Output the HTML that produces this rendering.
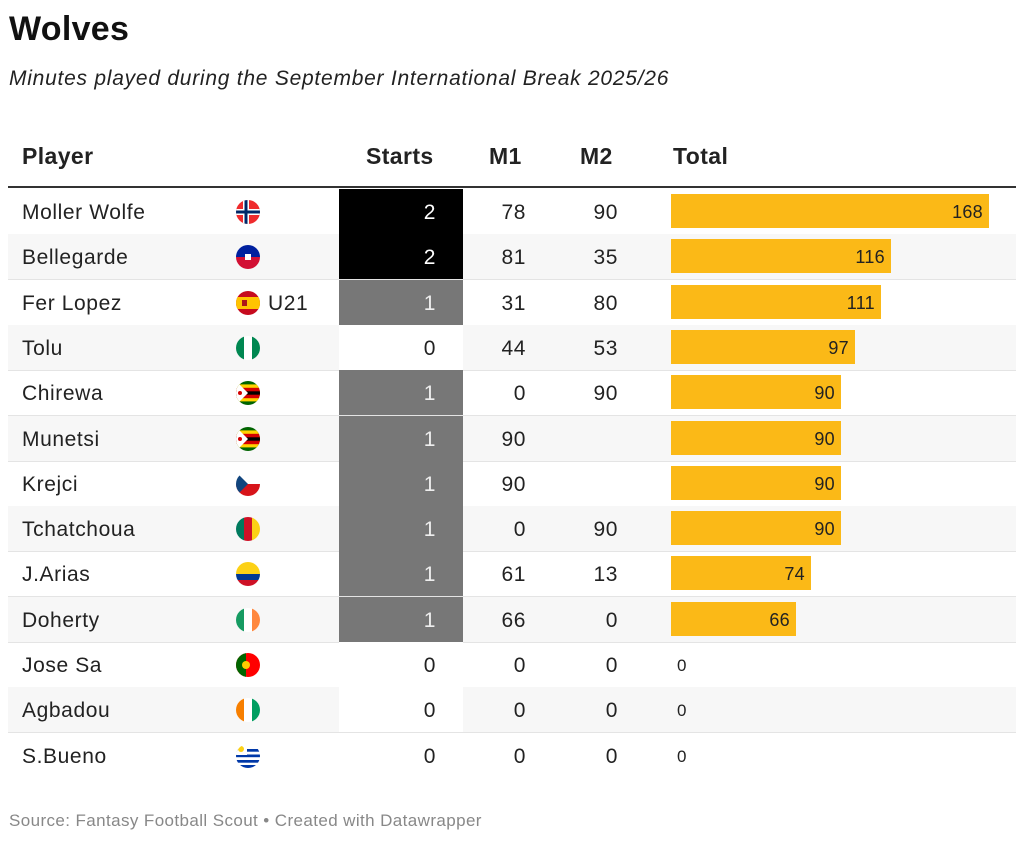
<!DOCTYPE html>
<html><head><meta charset="utf-8"><style>
body{margin:0;width:1024px;height:841px;background:#fff;font-family:"Liberation Sans",sans-serif;color:#222;position:relative;overflow:hidden}
.a{position:absolute}
.title{left:9px;top:10px;font-size:34px;font-weight:bold;color:#111;letter-spacing:0.3px}
.sub{left:9px;top:67px;font-size:21px;font-style:italic;color:#222;letter-spacing:0.75px}
.h{top:143px;font-size:23px;font-weight:bold;color:#222;letter-spacing:0.4px}
.row{position:absolute;left:8px;width:1008px;height:45px;border-bottom:1px solid #e4e4e4}
.row.g{background:#f7f7f7}
.row div{position:absolute;top:1px;line-height:45px;font-size:21px;letter-spacing:0.6px}
.n{left:14px}
.f{left:228px;top:11px!important;width:24px;height:24px;border-radius:50%;overflow:hidden}
.f svg{display:block}
.s{left:331px;width:124px;text-align:right;box-sizing:border-box;padding-right:27px;height:45px;top:0!important;line-height:47px!important}
.s.b{background:#000;color:#fff}.s.m{background:#777;color:#eee}.s.w{background:#fff}
.m1{left:440px;width:78px;text-align:right}
.m2{left:530px;width:80px;text-align:right}
.bar{left:663px;top:5px!important;height:34px;background:#fbb917;line-height:36px!important;text-align:right;box-sizing:border-box;padding-right:6px;font-size:18px!important;letter-spacing:0.3px!important}
.z{left:669px;font-size:17px!important}
</style></head><body>
<div class="a title">Wolves</div>
<div class="a sub">Minutes played during the September International Break 2025/26</div>
<div class="a h" style="left:22px">Player</div>
<div class="a h" style="left:366px">Starts</div>
<div class="a h" style="left:489px">M1</div>
<div class="a h" style="left:580px">M2</div>
<div class="a h" style="left:673px">Total</div>
<div class="a" style="left:8px;top:186px;width:1008px;height:2px;background:#333"></div>

<div class="row" style="top:189px"><div class="n">Moller Wolfe</div><div class="f"><svg width="24" height="24"><rect width="24" height="24" fill="#ef2b2d"/><rect x="7" width="6" height="24" fill="#fff"/><rect y="9" width="24" height="6" fill="#fff"/><rect x="8.5" width="3" height="24" fill="#002868"/><rect y="10.5" width="24" height="3" fill="#002868"/></svg></div><div class="s b">2</div><div class="m1">78</div><div class="m2">90</div><div class="bar" style="width:318px">168</div></div>
<div class="row g" style="top:234.3px"><div class="n">Bellegarde</div><div class="f"><svg width="24" height="24"><rect width="24" height="12" fill="#00209f"/><rect y="12" width="24" height="12" fill="#d21034"/><rect x="9" y="9" width="6" height="6" fill="#fff"/></svg></div><div class="s b">2</div><div class="m1">81</div><div class="m2">35</div><div class="bar" style="width:220px">116</div></div>
<div class="row" style="top:279.6px"><div class="n">Fer Lopez</div><div class="f"><svg width="24" height="24"><rect width="24" height="24" fill="#c60b1e"/><rect y="6" width="24" height="12" fill="#ffc400"/><rect x="6" y="9" width="5" height="6" fill="#ad1519"/></svg></div><div style="left:260px">U21</div><div class="s m">1</div><div class="m1">31</div><div class="m2">80</div><div class="bar" style="width:210px">111</div></div>
<div class="row g" style="top:324.9px"><div class="n">Tolu</div><div class="f"><svg width="24" height="24"><rect width="24" height="24" fill="#fff"/><rect width="8" height="24" fill="#008751"/><rect x="16" width="8" height="24" fill="#008751"/></svg></div><div class="s w">0</div><div class="m1">44</div><div class="m2">53</div><div class="bar" style="width:184px">97</div></div>
<div class="row" style="top:370.2px"><div class="n">Chirewa</div><div class="f"><svg width="24" height="24"><rect width="24" height="24" fill="#006400"/><rect y="3.4" width="24" height="17" fill="#ffd200"/><rect y="6.8" width="24" height="10.4" fill="#d40000"/><rect y="10.3" width="24" height="3.4" fill="#000"/><polygon points="0,0 12,12 0,24" fill="#fff"/><circle cx="4" cy="12" r="2" fill="#d40000"/></svg></div><div class="s m">1</div><div class="m1">0</div><div class="m2">90</div><div class="bar" style="width:170px">90</div></div>
<div class="row g" style="top:415.5px"><div class="n">Munetsi</div><div class="f"><svg width="24" height="24"><rect width="24" height="24" fill="#006400"/><rect y="3.4" width="24" height="17" fill="#ffd200"/><rect y="6.8" width="24" height="10.4" fill="#d40000"/><rect y="10.3" width="24" height="3.4" fill="#000"/><polygon points="0,0 12,12 0,24" fill="#fff"/><circle cx="4" cy="12" r="2" fill="#d40000"/></svg></div><div class="s m">1</div><div class="m1">90</div><div class="bar" style="width:170px">90</div></div>
<div class="row" style="top:460.8px"><div class="n">Krejci</div><div class="f"><svg width="24" height="24"><rect width="24" height="12" fill="#fff"/><rect y="12" width="24" height="12" fill="#d7141a"/><polygon points="0,0 12,12 0,24" fill="#11457e"/></svg></div><div class="s m">1</div><div class="m1">90</div><div class="bar" style="width:170px">90</div></div>
<div class="row g" style="top:506.1px"><div class="n">Tchatchoua</div><div class="f"><svg width="24" height="24"><rect width="8" height="24" fill="#007a5e"/><rect x="8" width="8" height="24" fill="#ce1126"/><rect x="16" width="8" height="24" fill="#fcd116"/></svg></div><div class="s m">1</div><div class="m1">0</div><div class="m2">90</div><div class="bar" style="width:170px">90</div></div>
<div class="row" style="top:551.4px"><div class="n">J.Arias</div><div class="f"><svg width="24" height="24"><rect width="24" height="12" fill="#fcd116"/><rect y="12" width="24" height="6" fill="#003893"/><rect y="18" width="24" height="6" fill="#ce1126"/></svg></div><div class="s m">1</div><div class="m1">61</div><div class="m2">13</div><div class="bar" style="width:140px">74</div></div>
<div class="row g" style="top:596.7px"><div class="n">Doherty</div><div class="f"><svg width="24" height="24"><rect width="24" height="24" fill="#fff"/><rect width="8" height="24" fill="#169b62"/><rect x="16" width="8" height="24" fill="#ff883e"/></svg></div><div class="s m">1</div><div class="m1">66</div><div class="m2">0</div><div class="bar" style="width:125px">66</div></div>
<div class="row" style="top:642px"><div class="n">Jose Sa</div><div class="f"><svg width="24" height="24"><rect width="24" height="24" fill="#ff0000"/><rect width="10" height="24" fill="#006600"/><circle cx="10" cy="12" r="4" fill="#ffcc00"/></svg></div><div class="s w">0</div><div class="m1">0</div><div class="m2">0</div><div class="z">0</div></div>
<div class="row g" style="top:687.3px"><div class="n">Agbadou</div><div class="f"><svg width="24" height="24"><rect width="24" height="24" fill="#fff"/><rect width="8" height="24" fill="#f77f00"/><rect x="16" width="8" height="24" fill="#009e60"/></svg></div><div class="s w">0</div><div class="m1">0</div><div class="m2">0</div><div class="z">0</div></div>
<div class="row" style="top:732.6px;border-bottom:none"><div class="n">S.Bueno</div><div class="f"><svg width="24" height="24"><rect width="24" height="24" fill="#fff"/><rect y="5" width="24" height="2.7" fill="#0038a8"/><rect y="10.5" width="24" height="2.7" fill="#0038a8"/><rect y="16" width="24" height="2.7" fill="#0038a8"/><rect y="21" width="24" height="3" fill="#0038a8"/><rect width="11" height="11" fill="#fff"/><circle cx="5" cy="5" r="3" fill="#fcd116"/></svg></div><div class="s w">0</div><div class="m1">0</div><div class="m2">0</div><div class="z">0</div></div>

<div class="a" style="left:9px;top:811px;font-size:17px;color:#888;letter-spacing:0.4px">Source: Fantasy Football Scout • Created with Datawrapper</div>
</body></html>
